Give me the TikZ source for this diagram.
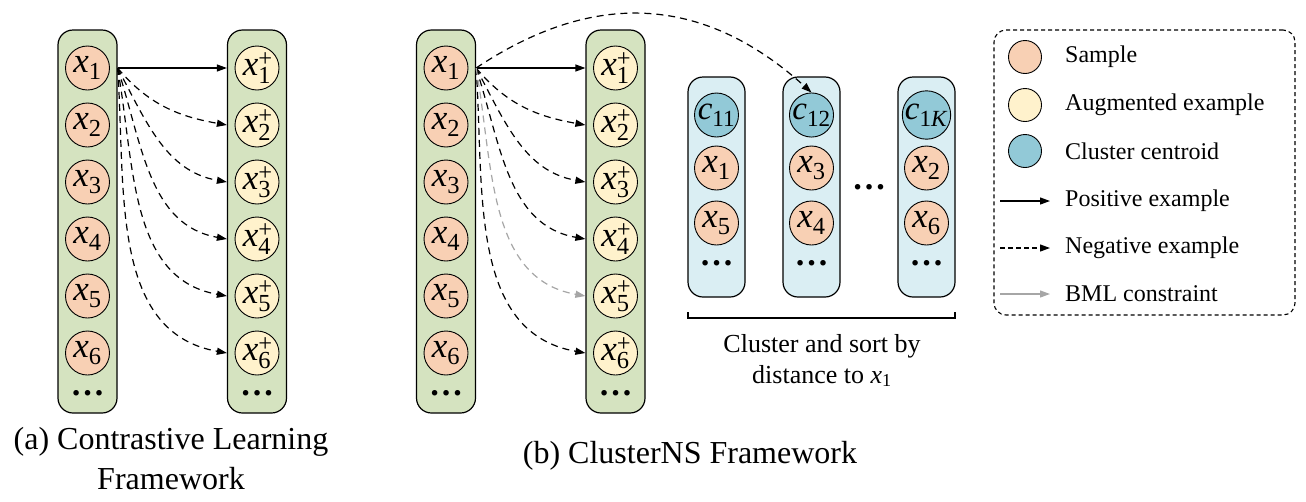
\documentclass[tikz,border=0pt]{standalone}
\usepackage{fontspec}
\setmainfont{Liberation Serif}
\usetikzlibrary{arrows.meta,positioning}

\definecolor{boxgreen}{HTML}{D5E3C0}
\definecolor{boxblue}{HTML}{DAEEF3}
\definecolor{fillsample}{HTML}{F8D0B4}
\definecolor{fillaug}{HTML}{FFF2CC}
\definecolor{fillcent}{HTML}{92C9D7}
\definecolor{bmlgray}{HTML}{A6A6A6}

\newcommand{\xs}[1]{\textit{x}\textsubscript{#1}}
\newcommand{\xp}[1]{\textit{x}\rlap{\textsuperscript{+}}\textsubscript{#1}}
\newcommand{\cn}[1]{\textit{c}\textsubscript{#1}}

\tikzset{
  greenbox/.style={draw, line width=1.2pt, rounded corners=15pt, fill=boxgreen, minimum width=59pt, inner sep=0pt},
  bluebox/.style={draw, line width=1.2pt, rounded corners=15pt, fill=boxblue, minimum width=57pt, inner sep=0pt},
  ball/.style={circle, draw, line width=0.9pt, minimum size=44pt, inner sep=0pt, font=\fontsize{35}{35}\selectfont},
  samplenode/.style={ball, fill=fillsample},
  augnode/.style={ball, fill=fillaug},
  centnode/.style={ball, fill=fillcent, font=\fontsize{33}{33}\selectfont},
  dotsnode/.style={inner sep=0pt, font=\fontsize{34}{34}\bfseries},
  posarrow/.style={line width=1.2pt, -{Triangle[length=10pt,width=7pt]}},
  negarrow/.style={line width=1.2pt, dash pattern=on 7pt off 5pt, -{Triangle[length=10pt,width=7pt]}},
  bmlarrow/.style={negarrow, draw=bmlgray, -{Triangle[length=10pt,width=7pt,fill=bmlgray]}},
  legtext/.style={anchor=west, inner sep=0pt, font=\fontsize{24}{24}\selectfont},
}

\begin{document}
\begin{tikzpicture}[x=1pt,y=-1pt]
  \useasboundingbox (0,0) rectangle (1306,501);

  % (a) contrastive learning columns
  \node[greenbox, minimum height=383pt] (colA) at (87.5,221.5) {};
  \node[greenbox, minimum height=383pt] (colAp) at (257,221.5) {};
  \foreach \i in {1,...,6} {
    \node[samplenode] (a\i) at (87.5,11+57*\i) {\xs{\i}};
    \node[augnode] (ap\i) at (257,11+57*\i) {\xp{\i}};
  }
  \node[dotsnode] (adots) at (87.5,393) {\ldots};
  \node[dotsnode] (apdots) at (257,393) {\ldots};

  % (a) arrows
  \draw[posarrow] (a1 -| colA.east) -- (ap1 -| colAp.west);
  \foreach \i/\ang in {2/-50,3/-62,4/-72,5/-80,6/-86}
    \draw[negarrow] (a1 -| colA.east) to[out=\ang, in=170] (ap\i -| colAp.west);

  % (b) clusterns columns
  \node[greenbox, minimum height=383pt] (colB) at (446,221.5) {};
  \node[greenbox, minimum height=383pt] (colBp) at (615.5,221.5) {};
  \foreach \i in {1,...,6} {
    \node[samplenode] (b\i) at (446,11+57*\i) {\xs{\i}};
    \node[augnode] (bp\i) at (615.5,11+57*\i) {\xp{\i}};
  }
  \node[dotsnode] (bdots) at (446,393) {\ldots};
  \node[dotsnode] (bpdots) at (615.5,393) {\ldots};

  % clusters
  \foreach \k/\x/\cc/\sa/\sb in {1/716.5/11/1/5, 2/811.5/12/3/4, 3/926.5/{1\textit{K}}/2/6} {
    \node[bluebox, minimum height=220pt] (cl\k) at (\x,187) {};
    \node[centnode] (c\k) at (\x,115) {\cn{\cc}};
    \node[samplenode] (s\k a) at (\x,168) {\xs{\sa}};
    \node[samplenode] (s\k b) at (\x,223) {\xs{\sb}};
    \node[dotsnode] (cdots\k) at (\x,263) {\ldots};
  }
  \node[dotsnode] (middots) at (869,187) {\ldots};

  % brace under the clusters
  \coordinate (brL) at (688,318);
  \coordinate (brR) at (955,318);
  \draw[line width=1.8pt] ([yshift=6pt]brL) -- (brL) -- (brR) -- ([yshift=6pt]brR);
  \node[align=center, anchor=north, inner sep=0pt, font=\fontsize{26}{31}\selectfont] (sortlabel) at (822,334)
    {Cluster and sort by\\distance to \xs{1}};

  % (b) arrows
  \draw[negarrow] (b1 -| colB.east) .. controls (590,-8) and (700,-8) .. (c2.north);
  \draw[posarrow] (b1 -| colB.east) -- (bp1 -| colBp.west);
  \foreach \i/\ang in {2/-50,3/-62,4/-72,6/-86}
    \draw[negarrow] (b1 -| colB.east) to[out=\ang, in=170] (bp\i -| colBp.west);
  \draw[bmlarrow] (b1 -| colB.east) to[out=-80, in=170] (bp5 -| colBp.west);

  % legend
  \node[draw, line width=1.1pt, dash pattern=on 4pt off 3pt, rounded corners=12pt,
        minimum width=301pt, minimum height=285pt] (legend) at (1144.5,172.5) {};
  \node[ball, fill=fillsample, minimum size=33pt] (lgsample) at (1025,57) {};
  \node[ball, fill=fillaug, minimum size=33pt] (lgaug) at (1025,105) {};
  \node[ball, fill=fillcent, minimum size=33pt] (lgcent) at (1025,151) {};
  \coordinate (lp0) at (1000,201); \coordinate (lp1) at (1050,201);
  \coordinate (ln0) at (1000,248); \coordinate (ln1) at (1050,248);
  \coordinate (lb0) at (1000,294); \coordinate (lb1) at (1050,294);
  \draw[posarrow] (lp0) -- (lp1);
  \draw[negarrow, dash pattern=on 5pt off 3pt] (ln0) -- (ln1);
  \draw[bmlarrow, solid] (lb0) -- (lb1);
  \node[legtext] (tsample) at (1065,57) {Sample};
  \node[legtext] (taug) at (1065,105) {Augmented example};
  \node[legtext] (tcent) at (1065,151) {Cluster centroid};
  \node[legtext] (tpos) at (1065,201) {Positive example};
  \node[legtext] (tneg) at (1065,248) {Negative example};
  \node[legtext] (tbml) at (1065,294) {BML constraint};

  % captions
  \node[align=center, anchor=north, inner sep=0pt, font=\fontsize{32}{40}\selectfont] (capA) at (171,427)
    {(a) Contrastive Learning\\Framework};
  \node[anchor=base, inner sep=0pt, font=\fontsize{32}{32}\selectfont] (capB) at (690,463)
    {(b) ClusterNS Framework};
\end{tikzpicture}
\end{document}
